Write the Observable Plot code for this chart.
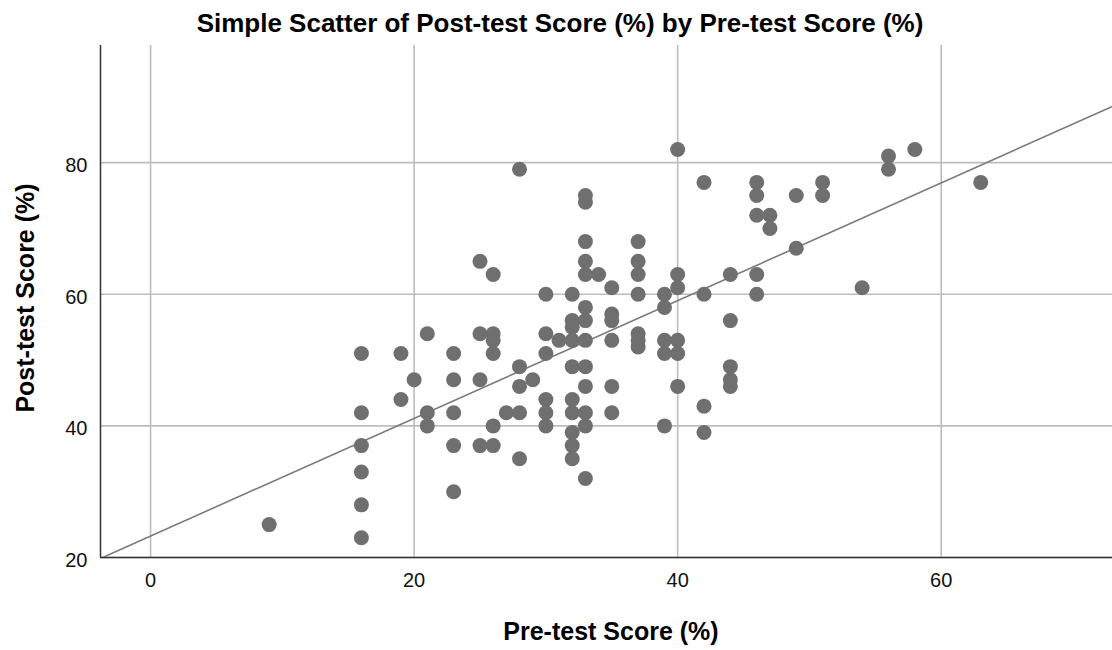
<!DOCTYPE html>
<html>
<head>
<meta charset="utf-8">
<script src="https://cdn.jsdelivr.net/npm/d3@7"></script>
<script src="https://cdn.jsdelivr.net/npm/@observablehq/plot@0.6"></script>
<style>
  body { margin: 0; background: #fff; }
  #title { height: 45px; width: 1112px; text-align: center; font-family: "Liberation Sans", Arial, sans-serif; font-weight: bold; font-size: 26px; line-height: 46px; color: #000; white-space: nowrap; overflow: hidden; padding-left: 8px; box-sizing: border-box; }
  #chart svg { display: block; }
</style>
</head>
<body>
<div id="title"></div>
<div id="chart"></div>
<script>
const titleText = "Simple Scatter of Post-test Score (%) by Pre-test Score (%)";
const xLabel = "Pre-test Score (%)";
const yLabel = "Post-test Score (%)";
const xTicks = [0, 20, 40, 60];
const yTicks = [20, 40, 60, 80];

// Pre-test scores (x) and Post-test scores (y)
const preScores = [
  9,
  16, 16, 16, 16, 16, 16,
  19, 19,
  20,
  21, 21, 21,
  23, 23, 23, 23, 23,
  25, 25, 25, 25,
  26, 26, 26, 26, 26, 26,
  27,
  28, 28, 28, 28, 28,
  29,
  30, 30, 30, 30, 30, 30,
  31,
  32, 32, 32, 32, 32, 32, 32, 32, 32, 32,
  33, 33, 33, 33, 33, 33, 33, 33, 33, 33, 33, 33, 33,
  34,
  35, 35, 35, 35, 35, 35,
  37, 37, 37, 37, 37, 37, 37,
  39, 39, 39, 39, 39,
  40, 40, 40, 40, 40, 40,
  42, 42, 42, 42,
  44, 44, 44, 44, 44,
  46, 46, 46, 46, 46,
  47, 47,
  49, 49,
  51, 51,
  54,
  56, 56,
  58,
  63
];
const postScores = [
  25,
  51, 42, 37, 33, 28, 23,
  51, 44,
  47,
  54, 42, 40,
  51, 47, 42, 37, 30,
  65, 54, 47, 37,
  63, 54, 53, 51, 40, 37,
  42,
  79, 49, 46, 42, 35,
  47,
  60, 54, 51, 44, 42, 40,
  53,
  60, 56, 55, 53, 49, 44, 42, 39, 37, 35,
  75, 74, 68, 65, 63, 58, 56, 53, 49, 46, 42, 40, 32,
  63,
  61, 57, 56, 53, 46, 42,
  68, 65, 63, 60, 54, 53, 52,
  60, 58, 53, 51, 40,
  82, 63, 61, 53, 51, 46,
  77, 60, 43, 39,
  63, 56, 49, 47, 46,
  77, 75, 72, 63, 60,
  72, 70,
  75, 67,
  77, 75,
  61,
  81, 79,
  82,
  77
];

const xDomain = [-3.8, 73];
const yDomain = [20, 97.8];

const points = preScores.map((x, i) => ({x, y: postScores[i]}));

// least-squares fit line computed from the data
const mx = d3.mean(preScores), my = d3.mean(postScores);
const slope = d3.sum(points, d => (d.x - mx) * (d.y - my)) / d3.sum(points, d => (d.x - mx) ** 2);
const intercept = my - slope * mx;
const fitLine = xDomain.map(x => ({x, y: intercept + slope * x}));

const font = '"Liberation Sans", Arial, sans-serif';

const plot = Plot.plot({
  width: 1112,
  height: 605,
  marginLeft: 100,
  marginRight: 0,
  marginTop: 0,
  marginBottom: 93,
  style: {fontFamily: font, fontSize: "20px", color: "#111", background: "#fff"},
  x: {domain: xDomain, ticks: xTicks},
  y: {domain: yDomain, ticks: yTicks},
  marks: [
    Plot.gridX(xTicks, {stroke: "#bdbdbd", strokeOpacity: 1, strokeWidth: 1.6}),
    Plot.gridY(yTicks, {stroke: "#bdbdbd", strokeOpacity: 1, strokeWidth: 1.6}),
    Plot.axisX(xTicks, {tickSize: 0, tickPadding: 15, label: null, fontSize: 20}),
    Plot.axisY(yTicks, {tickSize: 0, tickPadding: 13, label: null, fontSize: 20, dy: 3}),
    Plot.ruleX([xDomain[0]], {stroke: "#333", strokeWidth: 1.5}),
    Plot.ruleY([yDomain[0]], {stroke: "#333", strokeWidth: 1.5}),
    Plot.line(fitLine, {x: "x", y: "y", stroke: "#7a7a7a", strokeWidth: 1.6, clip: true}),
    Plot.dot(points, {x: "x", y: "y", r: 7.5, fill: "#6f6f6f", stroke: null})
  ]
});

// axis titles as part of the SVG
const svg = d3.select(plot);
svg.append("text")
  .attr("x", 611).attr("y", 595)
  .attr("text-anchor", "middle")
  .attr("font-family", font).attr("font-weight", "bold").attr("font-size", 25)
  .attr("fill", "#000")
  .text(xLabel);
svg.append("text")
  .attr("transform", "translate(34,253) rotate(-90)")
  .attr("text-anchor", "middle")
  .attr("font-family", font).attr("font-weight", "bold").attr("font-size", 25)
  .attr("fill", "#000")
  .text(yLabel);

document.getElementById("title").textContent = titleText;
document.getElementById("chart").appendChild(plot);
</script>
</body>
</html>
